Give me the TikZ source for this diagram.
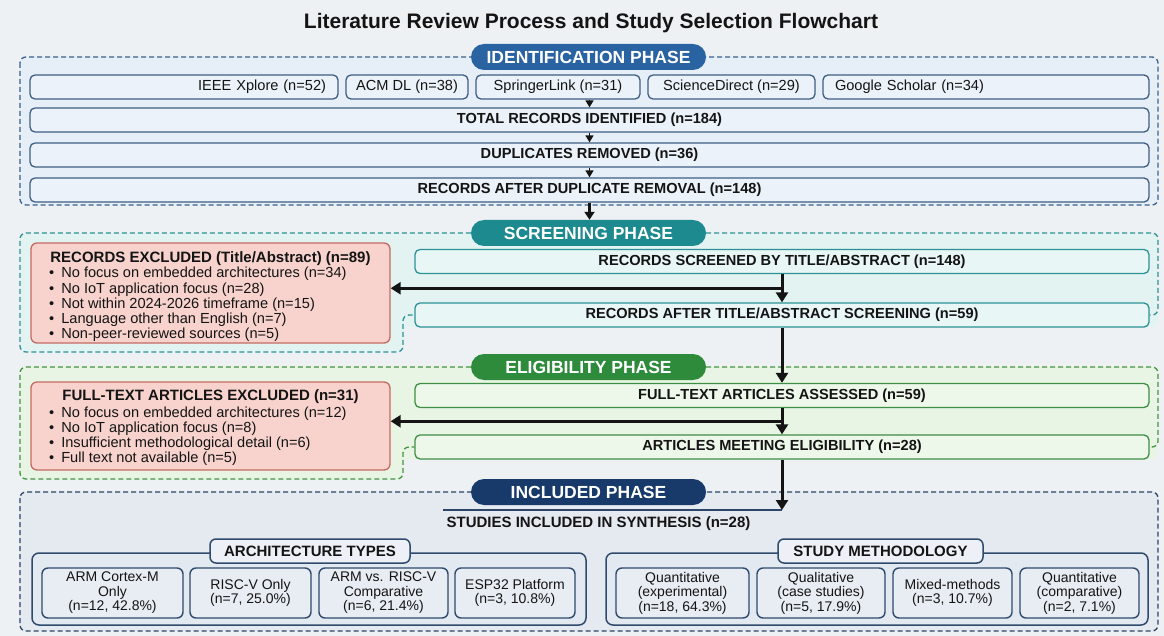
\documentclass[tikz,border=0pt]{standalone}
\usepackage{fontspec}
\setmainfont{Liberation Sans}
\usetikzlibrary{arrows.meta,calc}
\definecolor{bg}{HTML}{EEF1F4}
\definecolor{identpill}{HTML}{2A63A2}
\definecolor{scrpillc}{HTML}{1C8A8E}
\definecolor{elpillc}{HTML}{2E8B3B}
\definecolor{incpillc}{HTML}{173A6B}
\definecolor{identdash}{HTML}{3A6290}
\definecolor{scrdash}{HTML}{2E9296}
\definecolor{eldash}{HTML}{43963F}
\definecolor{incdash}{HTML}{2C4568}
\definecolor{identreg}{HTML}{E6EEF7}
\definecolor{scrreg}{HTML}{E3F3F2}
\definecolor{elreg}{HTML}{E8F5E5}
\definecolor{increg}{HTML}{E5EAF1}
\definecolor{identfill}{HTML}{EBF2F9}
\definecolor{identdraw}{HTML}{3E5E84}
\definecolor{scrfill}{HTML}{E9F6F6}
\definecolor{scrdraw}{HTML}{2C9196}
\definecolor{elfill}{HTML}{EEF8EA}
\definecolor{eldraw}{HTML}{3E8E44}
\definecolor{excfill}{HTML}{F8D3CD}
\definecolor{excdraw}{HTML}{C46A62}
\definecolor{grpfill}{HTML}{E3E9F1}
\definecolor{grpdraw}{HTML}{2E4A6D}
\definecolor{labfill}{HTML}{EDF1F7}
\definecolor{innfill}{HTML}{E8EDF4}
\definecolor{ink}{HTML}{141414}
\newcommand{\myfs}[2]{\fontsize{#1}{#2}\selectfont}
\begin{document}
\begin{tikzpicture}[x=1pt,y=-1pt,
  box/.style={draw, rounded corners=5pt, line width=1.3pt, inner sep=0pt, align=center, text=ink},
  ibox/.style={box, fill=identfill, draw=identdraw},
  sbox/.style={box, fill=scrfill, draw=scrdraw},
  ebox/.style={box, fill=elfill, draw=eldraw},
  xbox/.style={box, fill=excfill, draw=excdraw, rounded corners=6pt},
  gbox/.style={box, fill=grpfill, draw=grpdraw, line width=1.5pt, rounded corners=7pt},
  lbox/.style={box, fill=labfill, draw=grpdraw, line width=1.5pt, rounded corners=6pt, font=\bfseries\myfs{15}{15}},
  nbox/.style={box, fill=innfill, draw=grpdraw, line width=1.4pt, rounded corners=6pt, font=\myfs{14}{14.5}},
  reg/.style={font=\myfs{14.6}{15}},
  bld/.style={font=\bfseries\myfs{14.6}{15}},
  pill/.style={rounded corners=13pt, inner sep=0pt, minimum width=235pt, minimum height=26pt, text=white, font=\bfseries\myfs{17.5}{17.5}},
  dsh/.style={dash pattern=on 5pt off 3pt, line width=1.3pt, rounded corners=6pt},
  sarr/.style={draw=ink, line width=1.5pt, -{Triangle[length=7pt,width=8pt]}},
  marr/.style={draw=ink, line width=2.2pt, -{Triangle[length=8pt,width=10pt]}},
  tarr/.style={draw=ink, line width=3pt, -{Triangle[length=10pt,width=12pt]}}
]
\useasboundingbox (0,0) rectangle (1164,636);
\fill[bg] (0,0) rectangle (1164,636);

% title
\node[font=\bfseries\myfs{21}{21}, text=ink] (title) at (591,23) {Literature Review Process and Study Selection Flowchart};

% ---------- identification ----------
\draw[dsh, draw=identdash, fill=identreg] (20,57) rectangle (1158,205);
\node[pill, fill=identpill] (idpill) at (588.5,57) {IDENTIFICATION PHASE};

\node[ibox, reg, text width=284pt, inner xsep=12pt, align=right, minimum height=24pt] (ieee) at (184,87) {IEEE Xplore (n=52)};
\node[ibox, reg, minimum width=122pt, minimum height=24pt] (acm) at (407,87) {ACM DL (n=38)};
\node[ibox, reg, minimum width=164pt, minimum height=24pt] (spr) at (558,87) {SpringerLink (n=31)};
\node[ibox, reg, minimum width=167pt, minimum height=24pt] (sd) at (731.5,87) {ScienceDirect (n=29)};
\node[ibox, reg, text width=302pt, inner xsep=12pt, align=left, minimum height=24pt] (gs) at (986,87) {Google Scholar (n=34)};

\node[ibox, bld, minimum width=1119pt, minimum height=24pt] (tot) at (589.5,120) {TOTAL RECORDS IDENTIFIED (n=184)};
\node[ibox, bld, minimum width=1119pt, minimum height=24pt] (dup) at (589.5,155) {DUPLICATES REMOVED (n=36)};
\node[ibox, bld, minimum width=1119pt, minimum height=24pt] (aft) at (589.5,190) {RECORDS AFTER DUPLICATE REMOVAL (n=148)};

\draw[sarr] (tot.north |- spr.south) -- (tot.north);
\draw[sarr] (tot.south) -- (dup.north);
\draw[sarr] (dup.south) -- (aft.north);

% ---------- screening ----------
\fill[scrreg, rounded corners=6pt] (20,233) -- (1158,233) -- (1158,327) -- (403,327) -- (403,352) -- (20,352) -- cycle;
\node[sbox, bld, minimum width=734pt, minimum height=24pt] (scr1) at (782,261.5) {RECORDS SCREENED BY TITLE/ABSTRACT (n=148)};
\node[sbox, bld, minimum width=734pt, minimum height=24pt] (scr2) at (782,315) {RECORDS AFTER TITLE/ABSTRACT SCREENING (n=59)};
\node[pill, fill=scrpillc] (scrpill) at (588.5,233) {SCREENING PHASE};
\draw[dsh, draw=scrdash] (scrpill.west) -- (20,233) -- (20,352) -- (403,352) -- (403,315) -- (scr2.west);
\draw[dsh, draw=scrdash] (scrpill.east) -- (1158,233) -- (1158,315) -- (scr2.east);

\node[xbox, minimum width=359pt, minimum height=100pt] (exc1) at (210.5,293) {};
\node[font=\bfseries\myfs{15}{15}, text=ink, anchor=base] (exc1t) at (210.5,262) {RECORDS EXCLUDED (Title/Abstract) (n=89)};
\node[reg, text=ink, anchor=base west, inner sep=0pt] (exc1b) at (49,278) {\begin{tabular}[t]{@{}l@{\hspace{7pt}}l@{}}
\textbullet & No focus on embedded architectures (n=34)\\
\textbullet & No IoT application focus (n=28)\\
\textbullet & Not within 2024-2026 timeframe (n=15)\\
\textbullet & Language other than English (n=7)\\
\textbullet & Non-peer-reviewed sources (n=5)
\end{tabular}};

\draw[marr] (aft.south) -- (aft.south |- scrpill.north);

% ---------- eligibility ----------
\fill[elreg, rounded corners=6pt] (20,367) -- (1158,367) -- (1158,459) -- (403,459) -- (403,479) -- (20,479) -- cycle;
\node[ebox, bld, minimum width=734pt, minimum height=24pt] (el1) at (782,395.5) {FULL-TEXT ARTICLES ASSESSED (n=59)};
\node[ebox, bld, minimum width=734pt, minimum height=24pt] (el2) at (782,447) {ARTICLES MEETING ELIGIBILITY (n=28)};
\node[pill, fill=elpillc] (elpill) at (588.5,367) {ELIGIBILITY PHASE};
\draw[dsh, draw=eldash] (elpill.west) -- (20,367) -- (20,479) -- (403,479) -- (403,447) -- (el2.west);
\draw[dsh, draw=eldash] (elpill.east) -- (1158,367) -- (1158,447) -- (el2.east);

\node[xbox, minimum width=359pt, minimum height=88pt] (exc2) at (210.5,426) {};
\node[font=\bfseries\myfs{15}{15}, text=ink, anchor=base] (exc2t) at (210.5,400.5) {FULL-TEXT ARTICLES EXCLUDED (n=31)};
\node[reg, text=ink, anchor=base west, inner sep=0pt] (exc2b) at (49,417) {\begin{tabular}[t]{@{}l@{\hspace{7pt}}l@{}}
\textbullet & No focus on embedded architectures (n=12)\\
\textbullet & No IoT application focus (n=8)\\
\textbullet & Insufficient methodological detail (n=6)\\
\textbullet & Full text not available (n=5)
\end{tabular}};

% screening connectors
\coordinate (j1) at ($(scr1.south)!0.5!(scr2.north)$);
\draw[tarr] (scr1.south) -- (scr2.north);
\draw[tarr] (j1) -- (exc1.east |- j1);
\draw[tarr] (scr2.south) -- (el1.north);
% eligibility connectors
\coordinate (j2) at ($(el1.south)!0.5!(el2.north)$);
\draw[tarr] (el1.south) -- (el2.north);
\draw[tarr] (j2) -- (exc2.east |- j2);

% ---------- included ----------
\draw[dsh, draw=incdash, fill=increg] (20,492) rectangle (1158,631);
\node[pill, fill=incpillc] (incpill) at (588.5,492) {INCLUDED PHASE};
\coordinate (ul1) at (443,510);
\coordinate (ul2) at (782,510);
\draw[draw=incdash, line width=1.8pt] (ul1) -- (ul2);
\draw[tarr] (el2.south) -- (ul2);
\node[font=\bfseries\myfs{15}{15}, text=ink] (syn) at (598.5,524) {STUDIES INCLUDED IN SYNTHESIS (n=28)};

\node[gbox, minimum width=554pt, minimum height=72pt] (archg) at (309,589) {};
\node[gbox, minimum width=542pt, minimum height=72pt] (methg) at (877,589) {};
\node[lbox, minimum width=200pt, minimum height=24pt] (archl) at (310,551) {ARCHITECTURE TYPES};
\node[lbox, minimum width=205pt, minimum height=24pt] (methl) at (880.5,551) {STUDY METHODOLOGY};

\node[nbox, minimum width=141pt, minimum height=50pt] (arm) at (112.5,593) {ARM Cortex-M\\Only\\(n=12, 42.8\%)};
\node[nbox, minimum width=121pt, minimum height=50pt] (riscv) at (250.5,593) {RISC-V Only\\(n=7, 25.0\%)};
\node[nbox, minimum width=129pt, minimum height=50pt] (armvs) at (383.5,593) {ARM vs. RISC-V\\Comparative\\(n=6, 21.4\%)};
\node[nbox, minimum width=120pt, minimum height=50pt] (esp) at (515,593) {ESP32 Platform\\(n=3, 10.8\%)};

\node[nbox, minimum width=133pt, minimum height=50pt] (qe) at (682.5,593) {Quantitative\\(experimental)\\(n=18, 64.3\%)};
\node[nbox, minimum width=128pt, minimum height=50pt] (ql) at (821,593) {Qualitative\\(case studies)\\(n=5, 17.9\%)};
\node[nbox, minimum width=119pt, minimum height=50pt] (mm) at (952.5,593) {Mixed-methods\\(n=3, 10.7\%)};
\node[nbox, minimum width=119pt, minimum height=50pt] (qc) at (1079.5,593) {Quantitative\\(comparative)\\(n=2, 7.1\%)};
\end{tikzpicture}
\end{document}
